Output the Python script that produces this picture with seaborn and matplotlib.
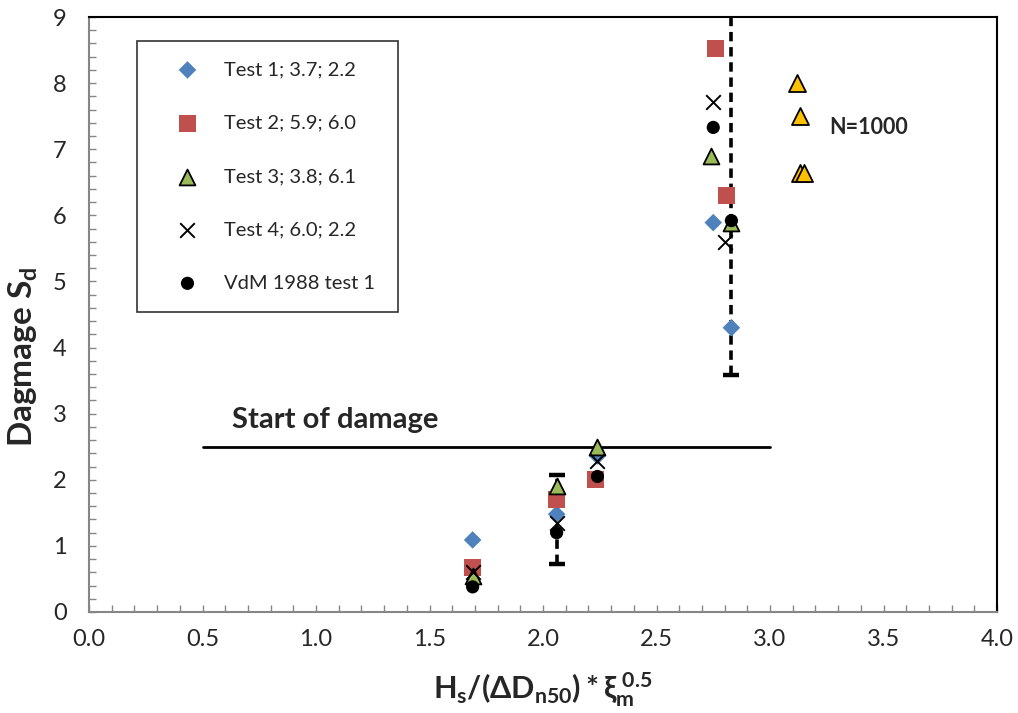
import numpy as np
import pandas as pd
import matplotlib
matplotlib.use("Agg")
import matplotlib.pyplot as plt
import seaborn as sns
from matplotlib.ticker import MultipleLocator, FormatStrFormatter

# ---- data ----
test1_x = [1.69, 2.06, 2.24, 2.75, 2.83]
test1_y = [1.09, 1.48, 2.36, 5.89, 4.30]
test2_x = [1.69, 2.06, 2.23, 2.76, 2.81]
test2_y = [0.68, 1.70, 2.00, 8.52, 6.30]
test3_x = [1.69, 2.06, 2.24, 2.74, 2.83]
test3_y = [0.55, 1.90, 2.50, 6.90, 5.88]
test4_x = [1.69, 2.06, 2.24, 2.75, 2.80]
test4_y = [0.60, 1.35, 2.28, 7.71, 5.59]
vdm_x = [1.69, 2.06, 2.24, 2.75, 2.83]
vdm_y = [0.38, 1.20, 2.05, 7.33, 5.92]
n1000_x = [3.12, 3.13, 3.13, 3.15]
n1000_y = [8.00, 7.50, 6.64, 6.64]

err_x = [2.06, 2.83]
err_mid = [1.20, 5.92]
err_lo = [0.73, 3.58]
err_hi = [2.07, 10.5]

start_x = [0.5, 3.0]
start_y = [2.5, 2.5]

labels = ["Test 1; 3.7; 2.2", "Test 2; 5.9; 6.0", "Test 3; 3.8; 6.1",
          "Test 4; 6.0; 2.2", "VdM 1988 test 1"]

sns.set_style("white")
plt.rcParams['font.family'] = ['Lato', 'DejaVu Sans']
plt.rcParams['mathtext.fontset'] = 'custom'
plt.rcParams['mathtext.rm'] = 'Lato'
plt.rcParams['mathtext.it'] = 'Lato'
plt.rcParams['mathtext.bf'] = 'Lato:bold'

fig = plt.figure(figsize=(10.18, 7.13), dpi=100)
ax = fig.add_axes([89/1018, (713-612)/713, 908/1018, 595/713])

# start of damage line
sns.lineplot(x=start_x, y=start_y, ax=ax, color='black', linewidth=2, zorder=1)

# error bars (dashed)
yerr = np.array([np.array(err_mid) - np.array(err_lo), np.array(err_hi) - np.array(err_mid)])
eb = ax.errorbar(err_x, err_mid, yerr=yerr, fmt='none', ecolor='black',
                 elinewidth=2.6, capsize=6, capthick=3.2, zorder=2)
for lc in eb[2]:
    lc.set_linestyle((0, (2.6, 1.6)))

sns.scatterplot(x=test1_x, y=test1_y, ax=ax, marker='D', color='#4F81BD', s=80,
                edgecolor='none', label=labels[0], zorder=3)
sns.scatterplot(x=test2_x, y=test2_y, ax=ax, marker='s', color='#C0504D', s=150,
                edgecolor='none', label=labels[1], zorder=3)
sns.scatterplot(x=test3_x, y=test3_y, ax=ax, marker='^', color='#9BBB59', s=130,
                edgecolor='black', linewidth=1.3, label=labels[2], zorder=3)
sns.scatterplot(x=test4_x, y=test4_y, ax=ax, marker='x', color='black', s=110,
                linewidth=1.4, label=labels[3], zorder=3)
sns.scatterplot(x=vdm_x, y=vdm_y, ax=ax, marker='o', color='black', s=90,
                edgecolor='none', label=labels[4], zorder=3)
sns.scatterplot(x=n1000_x, y=n1000_y, ax=ax, marker='^', color='#FFC000', s=150,
                edgecolor='black', linewidth=1.3, zorder=3, legend=False)

ax.text(0.63, 2.9, "Start of damage", fontsize=21, fontweight='bold', ha='left', va='center')
ax.text(3.26, 7.33, "N=1000", fontsize=15.5, fontweight='bold', ha='left', va='center')

ax.set_xlim(0, 4.0)
ax.set_ylim(0, 9)
ax.xaxis.set_major_locator(MultipleLocator(0.5))
ax.xaxis.set_minor_locator(MultipleLocator(0.1))
ax.yaxis.set_major_locator(MultipleLocator(1))
ax.yaxis.set_minor_locator(MultipleLocator(0.2))
ax.xaxis.set_major_formatter(FormatStrFormatter('%.1f'))
ax.tick_params(axis='both', which='both', direction='in', length=5, width=1,
               color='#868686', labelsize=17, bottom=True, left=True,
               top=False, right=False)
ax.tick_params(axis='y', pad=16)
ax.tick_params(axis='x', pad=12)
for s in ['left', 'bottom']:
    ax.spines[s].set_color('#868686')
    ax.spines[s].set_linewidth(1.5)
for s in ['top', 'right']:
    ax.spines[s].set_color('black')
    ax.spines[s].set_linewidth(1.5)

ax.set_xlabel(r"$\mathbf{H_s/(\Delta D_{n50})*\xi_m^{\ 0.5}}$", fontsize=22)
ax.xaxis.set_label_coords(0.5, -0.098)
ax.set_ylabel(r"Dagmage S$_\mathbf{d}$", fontsize=24, fontweight='bold')
ax.yaxis.set_label_coords(-0.054, 0.43)

leg = ax.legend(loc='upper left', bbox_to_anchor=(0.053, 0.9597, 0.2874, 0.0),
                mode='expand', frameon=True,
                fancybox=False, edgecolor='black', fontsize=14.5, labelspacing=1.8,
                borderpad=1.0, handletextpad=0.3, borderaxespad=0, handlelength=3.0)
leg.get_frame().set_linewidth(1.2)

fig.savefig("out.png", dpi=100)
